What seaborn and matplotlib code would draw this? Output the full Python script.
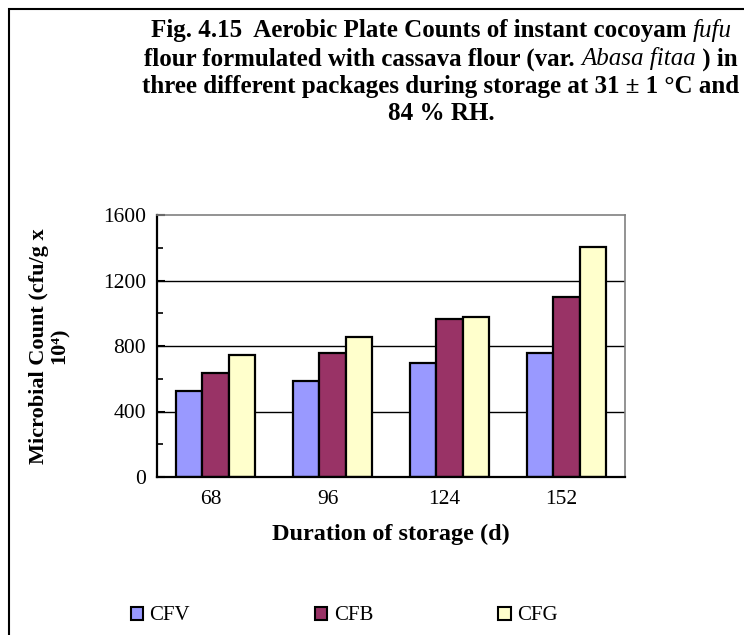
import matplotlib
matplotlib.use("Agg")
import matplotlib.pyplot as plt
import matplotlib.transforms as mtransforms
import seaborn as sns
import pandas as pd
from matplotlib.patches import Rectangle, Patch
from matplotlib.ticker import MultipleLocator

days = ["68", "96", "124", "152"]
packages = ["CFV", "CFB", "CFG"]
cfv = [525, 586, 696, 757]
cfb = [637, 757, 967, 1099]
cfg = [745, 855, 977, 1405]
colors = ["#9999FF", "#993366", "#FFFFCC"]

rows = []
for pkg, vals in zip(packages, [cfv, cfb, cfg]):
    for d, v in zip(days, vals):
        rows.append({"day": d, "pkg": pkg, "count": v})
df = pd.DataFrame(rows)

sns.set_theme(style="white")
plt.rcParams["font.family"] = ["Liberation Serif", "DejaVu Serif"]
plt.rcParams["text.color"] = "black"
plt.rcParams["axes.labelcolor"] = "black"
plt.rcParams["xtick.color"] = "black"
plt.rcParams["ytick.color"] = "black"

fig = plt.figure(figsize=(7.44, 6.35), dpi=100)
ax = fig.add_axes([157/744, 1-477/635, (625-157)/744, (477-215)/635])

sns.barplot(data=df, x="day", y="count", hue="pkg", order=days, hue_order=packages,
            palette=colors, saturation=1, edgecolor="black", linewidth=1.6,
            width=0.67, ax=ax, legend=False, errorbar=None)

ax.set_ylim(0, 1600)
ax.yaxis.set_major_locator(MultipleLocator(400))
ax.yaxis.set_minor_locator(MultipleLocator(200))
for y in [400, 800, 1200]:
    ax.axhline(y, color="black", lw=1.0, zorder=0)
ax.set_axisbelow(True)
ax.tick_params(axis="y", which="major", direction="in", length=6, width=1.5,
               labelsize=15.5, pad=8, left=True)
ax.tick_params(axis="y", which="minor", direction="in", length=4, width=1.2, left=True)
ax.tick_params(axis="x", length=0, labelsize=15.5, pad=9)
offset = mtransforms.ScaledTranslation(-5/100, 0, fig.dpi_scale_trans)
for lab in ax.get_xticklabels():
    lab.set_transform(lab.get_transform() + offset)
for s in ["left", "bottom"]:
    ax.spines[s].set_color("black")
    ax.spines[s].set_linewidth(1.6)
for s in ["top", "right"]:
    ax.spines[s].set_color("#808080")
    ax.spines[s].set_linewidth(1.2)
    ax.spines[s].set_visible(True)

ax.set_xlabel("Duration of storage (d)", fontsize=17.5, fontweight="bold", labelpad=11)
ax.set_ylabel("Microbial Count (cfu/g x\n10⁴)", fontsize=16, fontweight="bold",
              labelpad=24, linespacing=1.0)

# figure frame
fig.patches.append(Rectangle((9/744, -0.1), 1.2, 1 - 9/635 + 0.1, transform=fig.transFigure,
                             fill=False, edgecolor="black", lw=1.5))

# title with mixed styles
title_lines = [
    [("Fig. 4.15  Aerobic Plate Counts of instant cocoyam ", "bold"), ("fufu", "italic")],
    [("flour formulated with cassava flour (var. ", "bold"), ("Abasa fitaa", "italic"), (" ) in", "bold")],
    [("three different packages during storage at 31 ± 1 °C and", "bold")],
    [("84 % RH.", "bold")],
]
title_y = [31, 59, 86, 113]
cx = 441
fig.canvas.draw()
renderer = fig.canvas.get_renderer()
for segs, yp in zip(title_lines, title_y):
    texts = []
    widths = []
    for s, style in segs:
        kw = dict(fontsize=18, va="center", ha="left")
        if style == "bold":
            kw["fontweight"] = "bold"
        else:
            kw["fontstyle"] = "italic"
        t = fig.text(0, 1 - yp/635, s, **kw)
        bb = t.get_window_extent(renderer)
        texts.append(t)
        widths.append(bb.width)
    total = sum(widths)
    x0 = cx - total/2
    for t, w in zip(texts, widths):
        t.set_x(x0/744)
        x0 += w

handles = [Patch(facecolor=c, edgecolor="black", lw=1.5) for c in colors]
fig.legend(handles, packages, loc="center", bbox_to_anchor=(344/744, 1 - 616/635), ncol=3,
           frameon=False, fontsize=15, columnspacing=6.0, handlelength=0.6, handleheight=0.6,
           handletextpad=0.3)

fig.savefig("out.png", dpi=100)
